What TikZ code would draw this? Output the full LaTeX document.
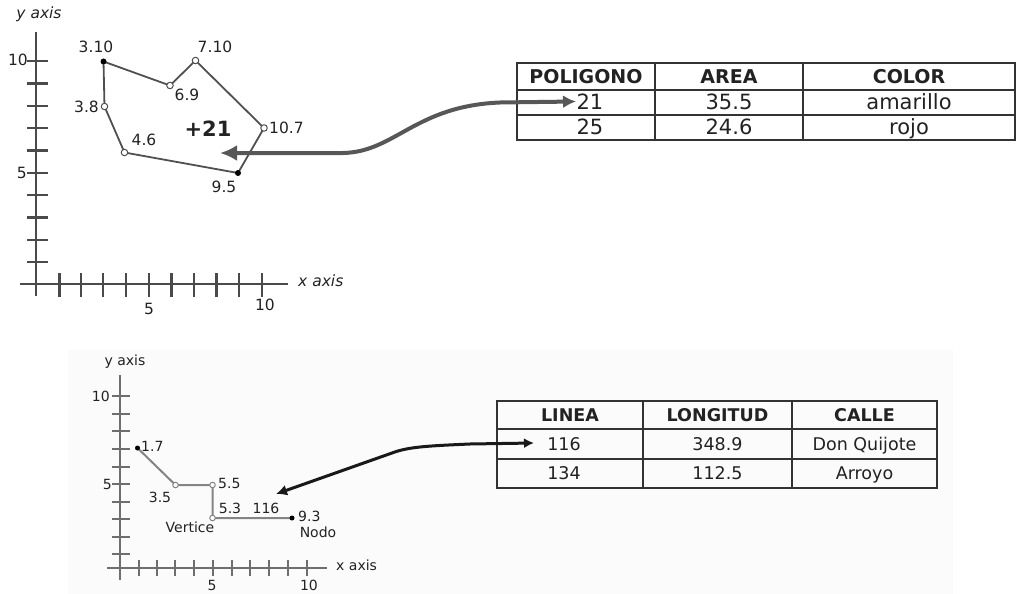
\documentclass[tikz,border=0pt]{standalone}
\usepackage{fontspec}
\setmainfont{DejaVu Sans}
\usetikzlibrary{arrows.meta}
\definecolor{txt}{HTML}{222222}
\definecolor{axc}{HTML}{4A4A4A}
\definecolor{polyc}{HTML}{505050}
\definecolor{tabc}{HTML}{333333}
\definecolor{arrc}{HTML}{575757}
\tikzset{
  fs/.style={font=\fontsize{#1}{#1}\selectfont},
  lbl/.style={fs=15.5, text=txt, inner sep=0pt},
  slbl/.style={fs=14, text=txt, inner sep=0pt},
  axisline/.style={draw=axc, line width=2.5pt},
  tickline/.style={draw=axc, line width=2.3pt},
  saxisline/.style={draw=axc!80, line width=2.3pt},
  stickline/.style={draw=axc!80, line width=2pt},
  edge/.style={draw=polyc, line width=1.8pt},
  sedge/.style={draw=polyc!70, line width=2pt},
  openpt/.style={circle, draw=polyc, fill=white, line width=1pt, minimum size=6.5pt, inner sep=0pt},
  fullpt/.style={circle, fill=black, minimum size=6pt, inner sep=0pt},
  tabline/.style={draw=tabc, line width=1.3pt},
  thead/.style={font=\bfseries\fontsize{19}{19}\selectfont, text=txt, inner sep=0pt, anchor=base},
  tcell/.style={fs=21, text=txt, inner sep=0pt, anchor=base},
  sthead/.style={font=\bfseries\fontsize{17.5}{17.5}\selectfont, text=txt, inner sep=0pt, anchor=base},
  stcell/.style={fs=17.5, text=txt, inner sep=0pt, anchor=base},
}
\begin{document}
\begin{tikzpicture}[x=1pt,y=-1pt]
\useasboundingbox (0,0) rectangle (1029,594);
\fill[black!1.5] (68,350) rectangle (953,594);
% ===== top chart =====
\draw[axisline] (36,32) -- (36,296);
\draw[axisline] (20,284) -- (288,284);
\foreach \y in {61,83.5,106,128,150.5,173,195,217.5,240,262}
  \draw[tickline] (27,\y) -- (48,\y);
\foreach \x in {59.5,81,103,126,149,171.5,194,216.5,239,262}
  \draw[tickline] (\x,273) -- (\x,297);
\node[lbl, font=\itshape\fontsize{15.5}{15.5}\selectfont] (ya) at (39,14) {y axis};
\node[lbl, font=\itshape\fontsize{15.5}{15.5}\selectfont, anchor=west] (xa) at (298,281) {x axis};
\node[lbl, anchor=east] (y10) at (28,60) {10};
\node[lbl, anchor=east] (y5) at (27,173) {5};
\node[lbl] (x5) at (149,309) {5};
\node[lbl] (x10) at (265,305) {10};
% polygon
\coordinate (p1) at (103.5,61.5);
\coordinate (p2) at (170,85.5);
\coordinate (p3) at (195.5,60.5);
\coordinate (p4) at (264,128);
\coordinate (p5) at (238,173);
\coordinate (p6) at (124.5,152.5);
\coordinate (p7) at (104.5,106.5);
\draw[edge] (p1) -- (p2) -- (p3) -- (p4) -- (p5) -- (p6) -- (p7) -- cycle;
\node[fullpt] (n1) at (p1) {};
\node[openpt] (n2) at (p2) {};
\node[openpt] (n3) at (p3) {};
\node[openpt] (n4) at (p4) {};
\node[fullpt] (n5) at (p5) {};
\node[openpt] (n6) at (p6) {};
\node[openpt] (n7) at (p7) {};
\node[lbl] (l1) at (96,47) {3.10};
\node[lbl] (l3) at (215,47) {7.10};
\node[lbl] (l2) at (187,95) {6.9};
\node[lbl, anchor=east] (l7) at (99,107) {3.8};
\node[lbl] (l6) at (144,140) {4.6};
\node[lbl, anchor=west] (l4) at (269,128) {10.7};
\node[lbl] (l5) at (224,187) {9.5};
\node[font=\bfseries\fontsize{21}{21}\selectfont, text=txt, inner sep=0pt] (plus) at (208,129) {+21};
% top table
\draw[tabline] (517,63) rectangle (1015,140);
\draw[tabline] (517,90) -- (1015,90);
\draw[tabline] (517,115) -- (1015,115);
\draw[tabline] (655,63) -- (655,140);
\draw[tabline] (803,63) -- (803,140);
\node[thead] (h1) at (586,83.5) {POLIGONO};
\node[thead] (h2) at (729,83.5) {AREA};
\node[thead] (h3) at (909,83.5) {COLOR};
\node[tcell] (c11) at (590,110) {21};
\node[tcell] (c12) at (729,110) {35.5};
\node[tcell] (c13) at (909,110) {amarillo};
\node[tcell] (c21) at (590,135) {25};
\node[tcell] (c22) at (729,135) {24.6};
\node[tcell] (c23) at (909,135) {rojo};
% top arrow
\coordinate (tl) at (220,153);
\coordinate (tr) at (576,101.5);
\draw[draw=arrc, line width=4pt, {Latex[length=17pt,width=16pt]}-{Latex[length=13pt,width=13pt]}]
  (tl) -- (343,153) .. controls (395,152) and (415,106) .. (500,102.5) -- (tr);
% ===== bottom chart =====
\draw[saxisline] (120,375) -- (120,580);
\draw[saxisline] (107,568) -- (327,568);
\foreach \y in {396,414,431,449,466.5,484,501.5,519,537,554}
  \draw[stickline] (112,\y) -- (130,\y);
\foreach \x in {138.5,157,175,193.5,212.5,231.5,250,268.5,288,306.5}
  \draw[stickline] (\x,560) -- (\x,576);
\node[slbl] (sya) at (125,362) {y axis};
\node[slbl, anchor=west] (sxa) at (336,565) {x axis};
\node[slbl, anchor=east] (sy10) at (110,396) {10};
\node[slbl, anchor=east] (sy5) at (112,484) {5};
\node[slbl] (sx5) at (212,585.5) {5};
\node[slbl] (sx10) at (309,585.5) {10};
\coordinate (q1) at (137.5,448);
\coordinate (q2) at (175.5,485);
\coordinate (q3) at (212.5,485);
\coordinate (q4) at (212.5,518);
\coordinate (q5) at (292,518);
\draw[sedge] (q1) -- (q2) -- (q3) -- (q4) -- (q5);
\node[fullpt, minimum size=5pt] (m1) at (q1) {};
\node[openpt, minimum size=5.5pt, draw=polyc!70] (m2) at (q2) {};
\node[openpt, minimum size=5.5pt, draw=polyc!70] (m3) at (q3) {};
\node[openpt, minimum size=5.5pt, draw=polyc!70] (m4) at (q4) {};
\node[fullpt, minimum size=5pt] (m5) at (q5) {};
\node[slbl, anchor=west] (k1) at (141,446) {1.7};
\node[slbl] (k2) at (160,497) {3.5};
\node[slbl, anchor=west] (k3) at (218,483) {5.5};
\node[slbl] (k4) at (230,508) {5.3};
\node[slbl] (k5) at (266,508) {116};
\node[slbl, anchor=west] (k6) at (298,516) {9.3};
\node[slbl] (k7) at (318,532) {Nodo};
\node[slbl] (k8) at (190,527) {Vertice};
% bottom table
\draw[tabline] (497,401) rectangle (937,488);
\draw[tabline] (497,429) -- (937,429);
\draw[tabline] (497,459) -- (937,459);
\draw[tabline] (643,401) -- (643,488);
\draw[tabline] (792,401) -- (792,488);
\node[sthead] (g1) at (570,421.5) {LINEA};
\node[sthead] (g2) at (717.5,421.5) {LONGITUD};
\node[sthead] (g3) at (864.5,421.5) {CALLE};
\node[stcell] (d11) at (564,450.5) {116};
\node[stcell] (d12) at (717.5,450.5) {348.9};
\node[stcell] (d13) at (864.5,450.5) {Don Quijote};
\node[stcell] (d21) at (564,479.5) {134};
\node[stcell] (d22) at (717.5,479.5) {112.5};
\node[stcell] (d23) at (864.5,479.5) {Arroyo};
% bottom arrow
\coordinate (bl) at (276,494);
\coordinate (br) at (534,443);
\draw[draw=black!90, line width=3pt, {Latex[length=11pt,width=11pt]}-{Latex[length=10pt,width=10pt]}]
  (bl) -- (392,453) .. controls (408,447) and (425,446) .. (470,444) -- (br);
\end{tikzpicture}
\end{document}
